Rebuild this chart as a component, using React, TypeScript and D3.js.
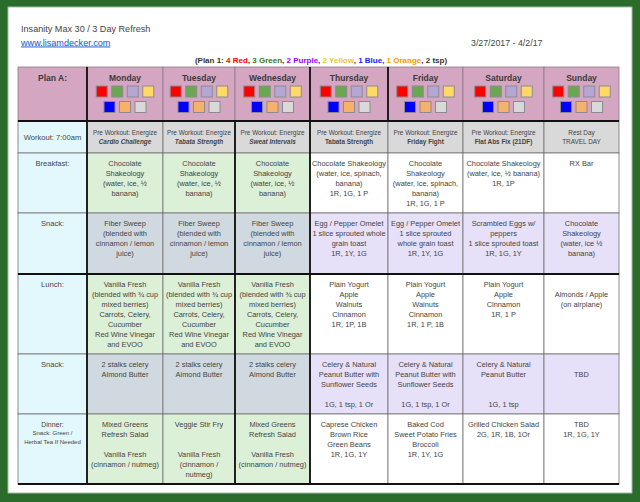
import React from 'react';
import * as d3 from 'd3';

// ---- data ----
const title = 'Insanity Max 30 / 3 Day Refresh';
const site = 'www.lisamdecker.com';
const dateRange = '3/27/2017 - 4/2/17';
const planLabel = 'Plan A:';
const days = ['Monday', 'Tuesday', 'Wednesday', 'Thursday', 'Friday', 'Saturday', 'Sunday'];

const containerCounts = [4, 3, 2, 2, 1, 1, 2];
const containerNames = ['Red', 'Green', 'Purple', 'Yellow', 'Blue', 'Orange', 'tsp'];
const containerTextColors = ['#ff0000', '#38761d', '#9900ff', '#f1c232', '#1a1aff', '#ff9900', '#333'];
const containerSquares = ['#ff0000', '#6aa84f', '#b4a7d6', '#ffd966', '#0000ff', '#f6b26b', '#d9d9d9'];

const rowLabels = ['Workout: 7:00am', 'Breakfast:', 'Snack:', 'Lunch:', 'Snack:', 'Dinner:'];
const dinnerNote = ['Snack: Green /', 'Herbal Tea If Needed'];

const workoutPre = ['Pre Workout: Energize', 'Pre Workout: Energize', 'Pre Workout: Energize',
  'Pre Workout: Energize', 'Pre Workout: Energize', 'Pre Workout: Energize', 'Rest Day'];
const workoutName = ['Cardio Challenge', 'Tabata Strength', 'Sweat Intervals', 'Tabata Strength',
  'Friday Fight', 'Flat Abs Fix (21DF)', 'TRAVEL DAY'];
const workoutStyle = ['bi', 'bi', 'bi', 'b', 'b', 'b', 'n'];

const breakfast = [
  ['Chocolate', 'Shakeology', '(water, ice, ½', 'banana)'],
  ['Chocolate', 'Shakeology', '(water, ice, ½', 'banana)'],
  ['Chocolate', 'Shakeology', '(water, ice, ½', 'banana)'],
  ['Chocolate Shakeology', '(water, ice, spinach,', 'banana)', '1R, 1G, 1 P'],
  ['Chocolate', 'Shakeology', '(water, ice, spinach,', 'banana)', '1R, 1G, 1 P'],
  ['Chocolate Shakeology', '(water, ice, ½ banana)', '1R, 1P'],
  ['RX Bar'],
];
const snack1 = [
  ['Fiber Sweep', '(blended with', 'cinnamon / lemon', 'juice)'],
  ['Fiber Sweep', '(blended with', 'cinnamon / lemon', 'juice)'],
  ['Fiber Sweep', '(blended with', 'cinnamon / lemon', 'juice)'],
  ['Egg / Pepper Omelet', '1 slice sprouted whole', 'grain toast', '1R, 1Y, 1G'],
  ['Egg / Pepper Omelet', '1 slice sprouted', 'whole grain toast', '1R, 1Y, 1G'],
  ['Scrambled Eggs w/', 'peppers', '1 slice sprouted toast', '1R, 1G, 1Y'],
  ['Chocolate', 'Shakeology', '(water, ice ½', 'banana)'],
];
const lunch = [
  ['Vanilla Fresh', '(blended with ¾ cup', 'mixed berries)', 'Carrots, Celery,', 'Cucumber', 'Red Wine Vinegar', 'and EVOO'],
  ['Vanilla Fresh', '(blended with ¾ cup', 'mixed berries)', 'Carrots, Celery,', 'Cucumber', 'Red Wine Vinegar', 'and EVOO'],
  ['Vanilla Fresh', '(blended with ¾ cup', 'mixed berries)', 'Carrots, Celery,', 'Cucumber', 'Red Wine Vinegar', 'and EVOO'],
  ['Plain Yogurt', 'Apple', 'Walnuts', 'Cinnamon', '1R, 1P, 1B'],
  ['Plain Yogurt', 'Apple', 'Walnuts', 'Cinnamon', '1R, 1 P, 1B'],
  ['Plain Yogurt', 'Apple', 'Cinnamon', '1R, 1 P'],
  ['', 'Almonds / Apple', '(on airplane)'],
];
const snack2 = [
  ['2 stalks celery', 'Almond Butter'],
  ['2 stalks celery', 'Almond Butter'],
  ['2 stalks celery', 'Almond Butter'],
  ['Celery & Natural', 'Peanut Butter with', 'Sunflower  Seeds', '', '1G, 1 tsp, 1 Or'],
  ['Celery & Natural', 'Peanut Butter with', 'Sunflower  Seeds', '', '1G, 1 tsp, 1 Or'],
  ['Celery & Natural', 'Peanut Butter', '', '', '1G, 1 tsp'],
  ['', 'TBD'],
];
const dinner = [
  ['Mixed Greens', 'Refresh Salad', '', 'Vanilla Fresh', '(cinnamon / nutmeg)'],
  ['Veggie Stir Fry', '', '', 'Vanilla Fresh', '(cinnamon /', 'nutmeg)'],
  ['Mixed Greens', 'Refresh Salad', '', 'Vanilla Fresh', '(cinnamon / nutmeg)'],
  ['Caprese Chicken', 'Brown Rice', 'Green Beans', '1R, 1G, 1Y'],
  ['Baked Cod', 'Sweet Potato Fries', 'Broccoli', '1R, 1Y, 1G'],
  ['Grilled Chicken Salad', '2G, 1R, 1B, 1Or'],
  ['TBD', '1R, 1G, 1Y'],
];
const meals = [breakfast, snack1, lunch, snack2, dinner];
// fill kind for Mon-Wed / Thu-Sun per meal row
const mealFills = [['green', 'white'], ['slate', 'lav'], ['green', 'white'], ['slate', 'lav'], ['green', 'white']];

// ---- layout ----
const colWidths = [69, 76, 72, 75, 78, 75, 81, 75];
const rowHeights = [54, 32, 60, 61, 80, 60, 70];
const x0 = 18, y0 = 67;
const colEdges = [x0, ...Array.from(d3.cumsum(colWidths), (d) => x0 + d)];
const rowEdges = [y0, ...Array.from(d3.cumsum(rowHeights), (d) => y0 + d)];

const fill = d3.scaleOrdinal<string, string>()
  .domain(['header', 'label', 'workout', 'green', 'white', 'slate', 'lav'])
  .range(['#d5a6c2', '#e3f8fd', '#d9d9d9', '#dcefd7', '#ffffff', '#d0d9df', '#e6e0f9']);

const cellFont = '"Liberation Sans Narrow", "Arial Narrow", "Liberation Sans", Arial, sans-serif';
const headFont = '"Liberation Sans", Arial, sans-serif';
const ink = '#444';

function Lines({ lines, x, y, size = 7.4, step = 10 }: { lines: string[]; x: number; y: number; size?: number; step?: number }) {
  return (
    <text x={x} y={y} textAnchor="middle" fontFamily={cellFont} fontSize={size} fill={ink}>
      {lines.map((l, i) => (
        <tspan key={i} x={x} y={y + i * step}>{l}</tspan>
      ))}
    </text>
  );
}

export default function App() {
  const W = 640, H = 502;
  const cx = (c: number) => (colEdges[c] + colEdges[c + 1]) / 2;

  const cells: JSX.Element[] = [];
  // header row
  for (let c = 0; c < 8; c++) {
    cells.push(<rect key={'h' + c} x={colEdges[c]} y={rowEdges[0]} width={colWidths[c]} height={rowHeights[0]}
      fill={fill('header')} stroke="#8a7a86" strokeWidth={0.8} />);
  }
  // body rows
  for (let r = 1; r < 7; r++) {
    for (let c = 0; c < 8; c++) {
      let k = 'label';
      if (c > 0) k = r === 1 ? 'workout' : mealFills[r - 2][c <= 3 ? 0 : 1];
      cells.push(<rect key={'c' + r + '-' + c} x={colEdges[c]} y={rowEdges[r]} width={colWidths[c]} height={rowHeights[r]}
        fill={fill(k)} stroke="#707070" strokeWidth={0.8} />);
    }
  }

  const sq = 11, sqStep = 15.5;

  return (
    <svg width={W} height={H} style={{ position: 'absolute', left: 0, top: 0 }}>
      <rect x={0} y={0} width={W} height={H} fill="#2b6b2c" />
      <rect x={8} y={7} width={624} height={486} fill="#ffffff" stroke="#9fbf9f" strokeWidth={1} />

      <text x={21} y={32} fontFamily={headFont} fontSize={9.1} fill="#444">{title}</text>
      <text x={21} y={45.5} fontFamily={headFont} fontSize={9.1} fill="#1155cc" textDecoration="underline">{site}</text>
      <text x={471} y={45.5} fontFamily={headFont} fontSize={8.8} fill="#444">{dateRange}</text>

      <text x={321} y={63} textAnchor="middle" fontFamily={cellFont} fontSize={8} fontWeight="bold" fill="#333">
        <tspan>(Plan 1: </tspan>
        {containerNames.map((n, i) => (
          <React.Fragment key={n}>
            <tspan fill={containerTextColors[i]}>{containerCounts[i] + ' ' + n}</tspan>
            <tspan>{i < containerNames.length - 1 ? ', ' : ')'}</tspan>
          </React.Fragment>
        ))}
      </text>

      {cells}

      {/* header content */}
      <text x={cx(0)} y={81} textAnchor="middle" fontFamily={cellFont} fontSize={8.5} fontWeight="bold" fill="#3a3a3a">{planLabel}</text>
      {days.map((d, i) => {
        const x = cx(i + 1);
        return (
          <g key={d}>
            <text x={x} y={81} textAnchor="middle" fontFamily={cellFont} fontSize={8.5} fontWeight="bold" fill="#3a3a3a">{d}</text>
            {containerSquares.map((col, j) => {
              const row = j < 4 ? 0 : 1;
              const n = row === 0 ? 4 : 3;
              const idx = row === 0 ? j : j - 4;
              const start = x - (sq + (n - 1) * sqStep) / 2;
              return (
                <rect key={col} x={start + idx * sqStep} y={row === 0 ? 86 : 101.5} width={sq} height={sq}
                  fill={col} stroke="#8c8c8c" strokeWidth={1} />
              );
            })}
          </g>
        );
      })}

      {/* label column */}
      <Lines lines={[rowLabels[0]]} x={cx(0)} y={rowEdges[1] + 19} size={7.6} />
      {rowLabels.slice(1, 5).map((l, i) => (
        <Lines key={i} lines={[l]} x={cx(0)} y={rowEdges[i + 2] + 13} size={7.6} />
      ))}
      <Lines lines={[rowLabels[5]]} x={cx(0)} y={rowEdges[6] + 13} size={7} />
      <Lines lines={dinnerNote} x={cx(0)} y={rowEdges[6] + 21} size={6} step={8.5} />

      {/* workout row */}
      {days.map((d, i) => (
        <text key={'w' + d} x={cx(i + 1)} textAnchor="middle" fontFamily={cellFont} fontSize={6.4} fill={ink}>
          <tspan x={cx(i + 1)} y={rowEdges[1] + 14}>{workoutPre[i]}</tspan>
          <tspan x={cx(i + 1)} y={rowEdges[1] + 22.5}
            fontWeight={workoutStyle[i] !== 'n' ? 'bold' : 'normal'}
            fontStyle={workoutStyle[i] === 'bi' ? 'italic' : 'normal'}>{workoutName[i]}</tspan>
        </text>
      ))}

      {/* meals */}
      {meals.map((m, r) => m.map((lines, c) => (
        <Lines key={r + '-' + c} lines={lines} x={cx(c + 1)} y={rowEdges[r + 2] + 13} />
      )))}

      {/* heavy rules */}
      {[1, 3, 4].map((c) => (
        <line key={'v' + c} x1={colEdges[c]} x2={colEdges[c]} y1={c === 1 ? rowEdges[0] : rowEdges[1]} y2={rowEdges[7]}
          stroke="#111" strokeWidth={1.8} />
      ))}
      <line x1={colEdges[4]} x2={colEdges[4]} y1={rowEdges[0]} y2={rowEdges[1]} stroke="#111" strokeWidth={1.8} />
      <line x1={colEdges[5]} x2={colEdges[5]} y1={rowEdges[0]} y2={rowEdges[1]} stroke="#111" strokeWidth={1.8} />
      {[1, 4, 7].map((r) => (
        <line key={'h' + r} x1={x0} x2={colEdges[8]} y1={rowEdges[r]} y2={rowEdges[r]} stroke="#111" strokeWidth={1.8} />
      ))}
    </svg>
  );
}
